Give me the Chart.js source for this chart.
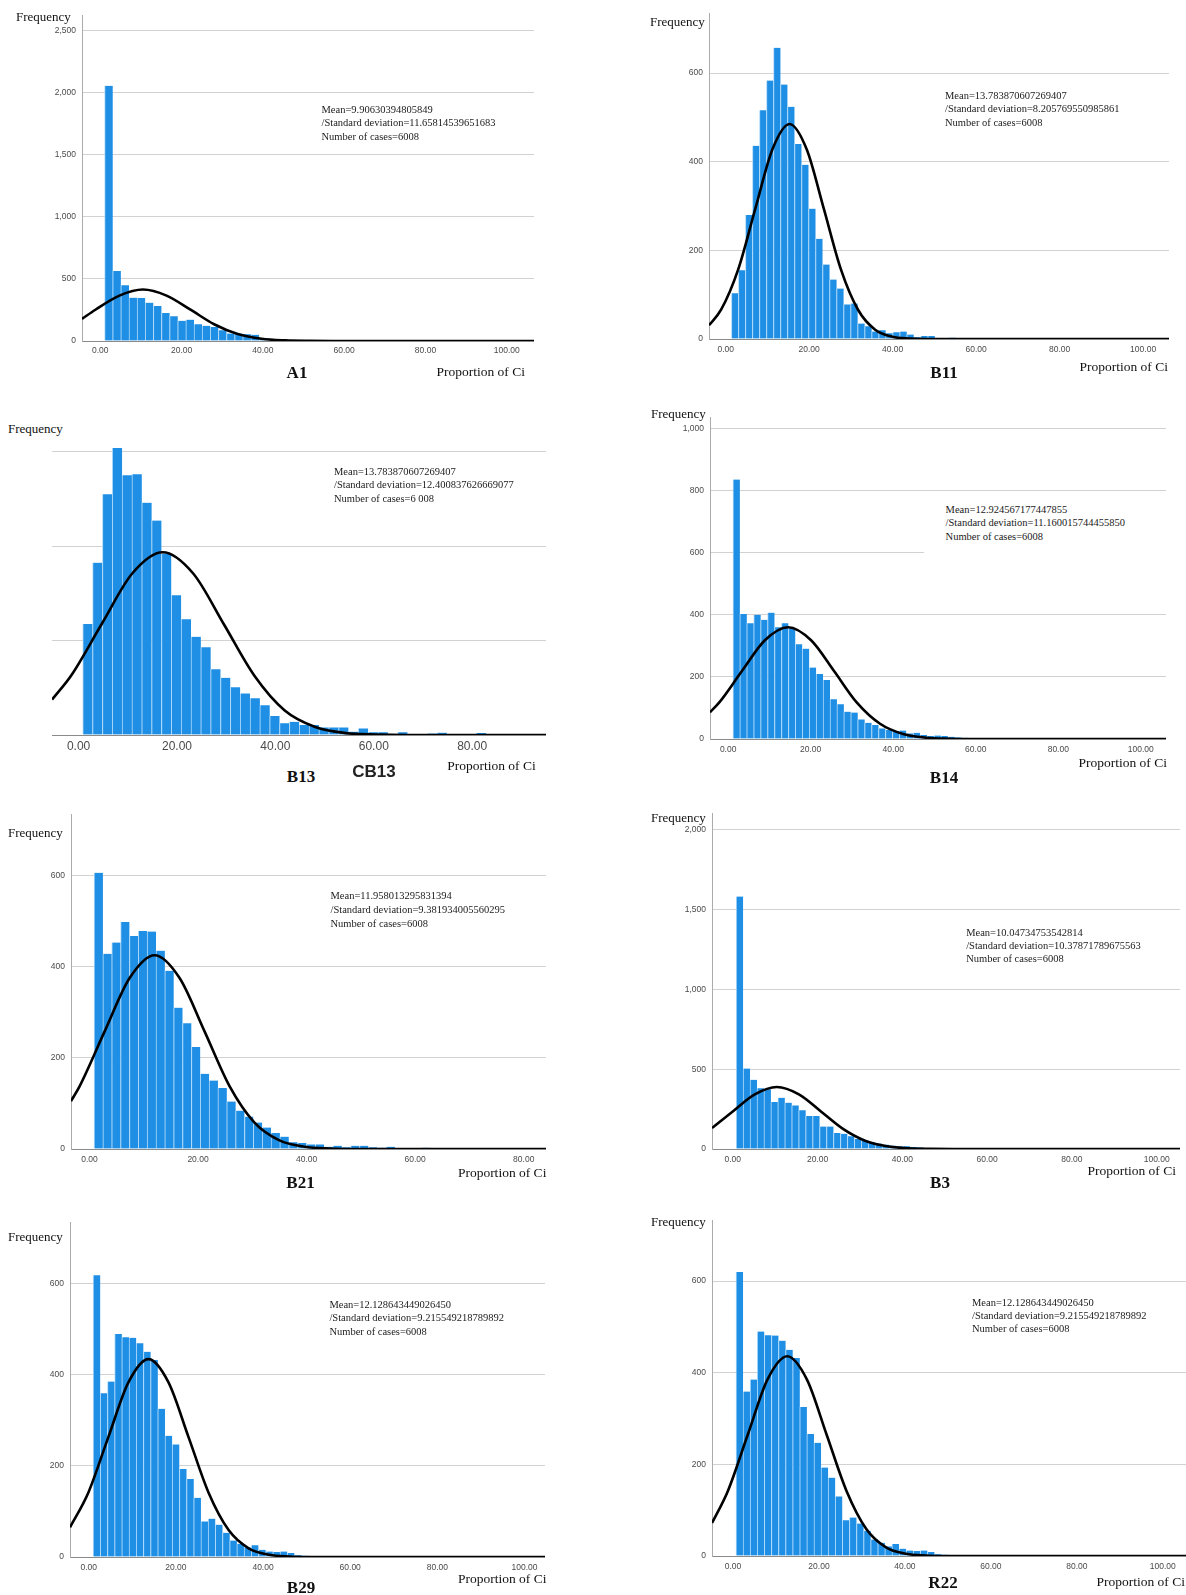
<!DOCTYPE html>
<html><head><meta charset="utf-8">
<script src="https://cdn.jsdelivr.net/npm/chart.js@4.4.1/dist/chart.umd.min.js"></script>
<style>
html,body{margin:0;padding:0;background:#fff;}
#page{position:relative;width:1186px;height:1595px;overflow:hidden;background:#fff;}
canvas{position:absolute;z-index:1;}
.t{position:absolute;white-space:nowrap;font-family:"Liberation Serif","Times New Roman",serif;color:#111;line-height:1.15;z-index:3;}
.box{position:absolute;background:#fff;z-index:2;}
</style></head><body><div id="page"></div>
<script>
// ================= DATA =================
const xTicks100 = [0, 20, 40, 60, 80, 100];
const xTicks80 = [0, 20, 40, 60, 80];
const yTicks2500 = [0, 500, 1000, 1500, 2000, 2500];
const yTicks2000 = [0, 500, 1000, 1500, 2000];
const yTicks1000 = [0, 200, 400, 600, 800, 1000];
const yTicks600 = [0, 200, 400, 600];

const panelNames = ["A1", "B11", "B13", "B14", "B21", "B3", "B29", "R22"];
const axisTitleY = "Frequency";
const axisTitleX = "Proportion of Ci";
const extraLabelB13 = "CB13";

// A1
const a1Counts = [2056,564,449,349,347,309,282,226,199,163,172,134,123,112,86,60,59,55,50,25,15,10,5,3,2,1,1,1];
const a1BinStart = 1.06, a1BinWidth = 2.0;
const a1CurveX = [-4.5,-1.2,4.7,10.5,16.3,22.2,28.0,33.8,39.7,45.5,51.3,57.1,106.7];
const a1CurveY = [178,252,366,415,366,252,135,56,18,5,1,0,0];
const a1Stats = ["Mean=9.90630394805849", "/Standard deviation=11.65814539651683", "Number of cases=6008"];

// B11
const b11Counts = [103,155,280,436,516,583,657,574,524,440,393,294,226,168,134,114,78,80,35,29,17,20,13,15,17,10,4,7,7,2,1,3,1,1,0,1,0,0,2];
const b11BinStart = 1.37, b11BinWidth = 1.68;
const b11CurveX = [-4.0,-1.1,3.0,7.1,11.2,15.3,19.4,23.5,27.6,31.7,35.8,39.9,44.0,48.1,106.2];
const b11CurveY = [31,66,157,294,428,485,428,294,157,66,21,5,1,0,0];
const b11Stats = ["Mean=13.783870607269407", "/Standard deviation=8.205769550985861", "Number of cases=6008"];

// B13
const b13Counts = [235,365,510,608,550,552,492,454,384,296,245,208,186,139,121,101,88,78,63,40,25,28,21,21,16,16,16,7,14,6,6,2,6,2,2,3,5,1,1,1,4,1,1,1,1,2];
const b13BinStart = 0.85, b13BinWidth = 2.0;
const b13CurveX = [-5.4,-1.5,4.7,10.9,17.1,23.3,29.5,35.7,41.9,48.1,54.3,60.5,66.7,95];
const b13CurveY = [75,126,235,342,387,342,235,126,52,17,4,1,0,0];
const b13Stats = ["Mean=13.783870607269407", "/Standard deviation=12.400837626669077", "Number of cases=6 008"];

// B14
const b14Counts = [836,403,373,400,384,407,360,373,355,305,291,230,209,190,128,112,88,85,63,52,45,34,29,26,27,18,20,13,10,11,10,7,5,4,3,2,2,3,1,1,2,1];
const b14BinStart = 1.16, b14BinWidth = 1.68;
const b14CurveX = [-4.4,-2.2,3.3,8.9,14.5,20.1,25.7,31.2,36.8,42.4,48.0,53.6,59.1,106.1];
const b14CurveY = [86,117,218,318,360,318,218,117,49,16,4,1,0,0];
const b14Stats = ["Mean=12.924567177447855", "/Standard deviation=11.160015744455850", "Number of cases=6008"];

// B21
const b21Counts = [606,428,453,498,467,478,477,435,391,310,276,224,165,150,134,104,84,71,58,47,35,27,15,13,10,10,5,7,4,7,7,4,3,5,2,1,1,3,1,1];
const b21BinStart = 0.85, b21BinWidth = 1.63;
const b21CurveX = [-3.4,-1.8,2.8,7.4,12.0,16.6,21.2,25.8,30.4,35.0,39.6,44.2,48.8,84.1];
const b21CurveY = [105,138,258,375,425,375,258,138,58,19,5,1,0,0];
const b21Stats = ["Mean=11.958013295831394", "/Standard deviation=9.381934005560295", "Number of cases=6008"];

// B3
const b3Counts = [1581,504,433,380,374,294,321,290,273,242,206,206,141,141,101,95,80,63,53,42,34,27,21,17,17,13,10,6,5,4,3,2,2,1,1,1];
const b3BinStart = 0.8, b3BinWidth = 1.64;
const b3CurveX = [-4.9,0.0,5.2,10.4,15.6,20.8,26.0,31.2,36.4,41.5,46.7,51.9,105.5];
const b3CurveY = [131,235,342,388,342,235,126,52,17,4,1,0,0];
const b3Stats = ["Mean=10.04734753542814", "/Standard deviation=10.37871789675563", "Number of cases=6008"];

// B29
const b29Counts = [618,359,385,489,482,481,469,450,432,325,266,247,193,171,130,78,84,71,53,36,29,21,26,16,12,11,12,9,4,3,2,2,1,1,1];
const b29BinStart = 1.0, b29BinWidth = 1.65;
const b29CurveX = [-4.3,-0.1,4.5,9.1,13.7,18.3,22.9,27.5,32.1,36.7,41.4,46.0,50.6,104.7];
const b29CurveY = [65,141,263,383,434,383,263,141,59,19,5,1,0,0];
const b29Stats = ["Mean=12.128643449026450", "/Standard deviation=9.215549218789892", "Number of cases=6008"];

// R22
const r22Counts = [620,359,385,490,482,481,470,450,432,325,266,247,193,171,130,78,84,71,55,36,29,21,26,16,12,11,12,9,4,3,2,2,1,1,1];
const r22BinStart = 0.68, r22BinWidth = 1.65;
const r22CurveX = [-4.9,-1.2,3.4,8.0,12.6,17.2,21.8,26.4,31.0,35.6,40.2,44.8,49.4,105.4];
const r22CurveY = [72,142,264,385,436,385,264,142,59,19,5,1,0,0];
const r22Stats = ["Mean=12.128643449026450", "/Standard deviation=9.215549218789892", "Number of cases=6008"];

// ================= LAYOUT =================
const SERIF = '"Liberation Serif","Times New Roman",serif';
const SANS = '"Liberation Sans",Arial,sans-serif';

const panels = [
  {name:panelNames[0], counts:a1Counts, binStart:a1BinStart, binWidth:a1BinWidth, cx:a1CurveX, cy:a1CurveY, stats:a1Stats, yTicks:yTicks2500, xTicks:xTicks100,
   area:{l:81.5,r:534,t:15,b:340.7}, xMin:-4.5, xMax:106.7, yMax:2627, xGap:9.3, xFont:8.5, showY:true,
   freq:[16,16.7], ann:[321.5,110,13.4], title:[297,373], prop:[525,371.7]},
  {name:panelNames[1], counts:b11Counts, binStart:b11BinStart, binWidth:b11BinWidth, cx:b11CurveX, cy:b11CurveY, stats:b11Stats, yTicks:yTicks600, xTicks:xTicks100,
   area:{l:709.3,r:1169,t:13,b:339}, xMin:-4.0, xMax:106.2, yMax:735.4, xGap:10.3, xFont:8.5, showY:true,
   freq:[650,21.7], ann:[945,96,13.3], title:[944,372.5], prop:[1168,366.5]},
  {name:panelNames[2], counts:b13Counts, binStart:b13BinStart, binWidth:b13BinWidth, cx:b13CurveX, cy:b13CurveY, stats:b13Stats, yTicks:yTicks600, xTicks:xTicks80,
   area:{l:51.7,r:545.7,t:440,b:735}, xMin:-5.4, xMax:95, yMax:624.7, xGap:11.7, xFont:12, showY:false,
   freq:[8,429.3], ann:[334,471.7,13.7], title:[301,777.3], prop:[535.7,766], extra:[374,771.7]},
  {name:panelNames[3], counts:b14Counts, binStart:b14BinStart, binWidth:b14BinWidth, cx:b14CurveX, cy:b14CurveY, stats:b14Stats, yTicks:yTicks1000, xTicks:xTicks100,
   area:{l:709.8,r:1165.5,t:416.7,b:739}, xMin:-4.4, xMax:106.1, yMax:1037.3, xGap:10.3, xFont:8.5, showY:true,
   freq:[651,414], ann:[945.6,510,13.3], title:[944,778], prop:[1167,763.3], cover:{l:924,t:500,w:242,h:60}},
  {name:panelNames[4], counts:b21Counts, binStart:b21BinStart, binWidth:b21BinWidth, cx:b21CurveX, cy:b21CurveY, stats:b21Stats, yTicks:yTicks600, xTicks:xTicks80,
   area:{l:71.4,r:546.4,t:814.3,b:1149}, xMin:-3.4, xMax:84.1, yMax:734.8, xGap:11, xFont:8.5, showY:true,
   freq:[8,833.3], ann:[330.5,895.7,14], title:[300.5,1183], prop:[546.4,1172.7]},
  {name:panelNames[5], counts:b3Counts, binStart:b3BinStart, binWidth:b3BinWidth, cx:b3CurveX, cy:b3CurveY, stats:b3Stats, yTicks:yTicks2000, xTicks:xTicks100,
   area:{l:712.3,r:1179.6,t:813.3,b:1149.3}, xMin:-4.9, xMax:105.5, yMax:2104.6, xGap:10.7, xFont:8.5, showY:true,
   freq:[651,818.3], ann:[966.2,932.7,13.2], title:[940,1183.3], prop:[1176,1171]},
  {name:panelNames[6], counts:b29Counts, binStart:b29BinStart, binWidth:b29BinWidth, cx:b29CurveX, cy:b29CurveY, stats:b29Stats, yTicks:yTicks600, xTicks:xTicks100,
   area:{l:69.6,r:544.6,t:1221.7,b:1557.3}, xMin:-4.3, xMax:104.7, yMax:734.8, xGap:11, xFont:8.5, showY:true,
   freq:[8,1236.7], ann:[329.4,1305,13.3], title:[301,1588], prop:[546.5,1579]},
  {name:panelNames[7], counts:r22Counts, binStart:r22BinStart, binWidth:r22BinWidth, cx:r22CurveX, cy:r22CurveY, stats:r22Stats, yTicks:yTicks600, xTicks:xTicks100,
   area:{l:712.3,r:1186,t:1220,b:1555.7}, xMin:-4.9, xMax:105.4, yMax:733.3, xGap:11, xFont:8.5, showY:true,
   freq:[651,1222.3], ann:[972,1302.5,13.4], title:[943,1583], prop:[1185,1582]}
];

const page = document.getElementById('page');

function txt(s, x, cy, opt) {
  const d = document.createElement('div');
  d.className = 't';
  d.textContent = s;
  d.style.left = x + 'px';
  d.style.top = cy + 'px';
  d.style.fontSize = opt.size + 'px';
  if (opt.bold) d.style.fontWeight = 'bold';
  if (opt.family) d.style.fontFamily = opt.family;
  if (opt.color) d.style.color = opt.color;
  const tx = opt.align === 'center' ? '-50%' : (opt.align === 'right' ? '-100%' : '0');
  d.style.transform = 'translate(' + tx + ',-50%)';
  page.appendChild(d);
}

function makePanel(p) {
  const YW = p.showY ? 40 : 0, XH = 30;
  const L = Math.round(p.area.l), R = Math.round(p.area.r), T = Math.round(p.area.t), B = Math.round(p.area.b);
  const cv = document.createElement('canvas');
  cv.width = (R - L) + YW;
  cv.height = (B - T) + XH;
  cv.style.left = (L - YW) + 'px';
  cv.style.top = T + 'px';
  page.appendChild(cv);

  const barData = p.counts.map((c, i) => ({x: p.binStart + (i + 0.5) * p.binWidth, y: c}));
  const lineData = p.cx.map((x, i) => ({x: x, y: p.cy[i]}));

  new Chart(cv, {
    type: 'bar',
    data: {datasets: [
      {type: 'line', data: lineData, borderColor: '#000', borderWidth: 2.6, pointRadius: 0,
       cubicInterpolationMode: 'monotone', fill: false, order: 0},
      {type: 'bar', data: barData, backgroundColor: '#1f8fe5', borderColor: 'rgba(170,215,250,0.95)',
       borderWidth: {left: 1, right: 0, top: 0, bottom: 0}, borderSkipped: false,
       barPercentage: 1, categoryPercentage: 1, order: 1}
    ]},
    options: {
      responsive: false, animation: false, devicePixelRatio: 1, events: [],
      layout: {padding: 0},
      plugins: {legend: {display: false}, tooltip: {enabled: false}},
      scales: {
        x: {type: 'linear', min: p.xMin, max: p.xMax, offset: false,
            grid: {display: false, drawTicks: false},
            border: {display: true, color: '#8a8a8a', width: 1},
            afterBuildTicks: ax => { ax.ticks = p.xTicks.map(v => ({value: v})); },
            afterFit: ax => { ax.height = XH; ax.paddingLeft = 0; ax.paddingRight = 0; },
            ticks: {autoSkip: false, maxRotation: 0, minRotation: 0,
                    padding: Math.max(0, p.xGap - p.xFont * 0.6),
                    color: '#4a4a4a', font: {family: SANS, size: p.xFont},
                    callback: v => Number(v).toFixed(2)}},
        y: {type: 'linear', min: 0, max: p.yMax,
            grid: {color: '#d2d2d2', lineWidth: 1, drawTicks: false},
            border: {display: p.showY, color: '#ababab', width: 1},
            afterBuildTicks: ax => { ax.ticks = p.yTicks.map(v => ({value: v})); },
            afterFit: ax => { ax.width = YW; ax.paddingTop = 0; ax.paddingBottom = 0; },
            ticks: {display: p.showY, padding: 6, color: '#4a4a4a', font: {family: SANS, size: 8.5},
                    callback: v => Number(v).toLocaleString('en-US')}}
      }
    }
  });

  if (p.cover) {
    const b = document.createElement('div');
    b.className = 'box';
    b.style.left = p.cover.l + 'px'; b.style.top = p.cover.t + 'px';
    b.style.width = p.cover.w + 'px'; b.style.height = p.cover.h + 'px';
    page.appendChild(b);
  }
  txt(axisTitleY, p.freq[0], p.freq[1], {size: 13});
  p.stats.forEach((s, i) => txt(s, p.ann[0], p.ann[1] + i * p.ann[2], {size: 10.5, color: '#1a1a1a'}));
  txt(p.name, p.title[0], p.title[1], {size: 17, bold: true, align: 'center'});
  txt(axisTitleX, p.prop[0], p.prop[1], {size: 13.5, align: 'right'});
  if (p.extra) txt(extraLabelB13, p.extra[0], p.extra[1], {size: 17, bold: true, align: 'center', family: SANS, color: '#222'});
}

panels.forEach(makePanel);
</script>
</body></html>
